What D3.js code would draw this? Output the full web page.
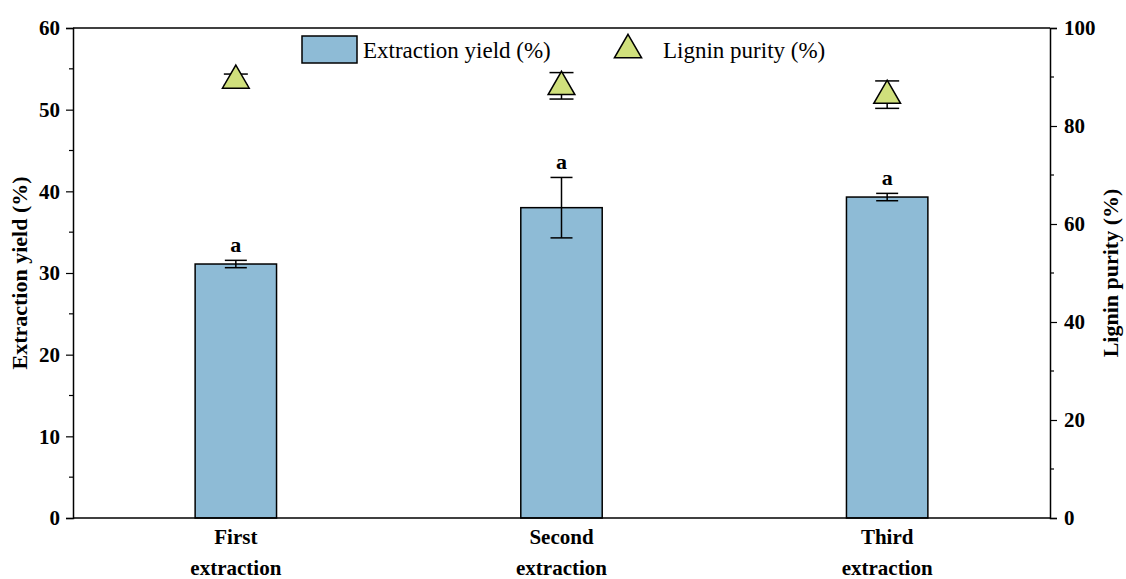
<!DOCTYPE html>
<html><head><meta charset="utf-8">
<script src="https://cdn.jsdelivr.net/npm/d3@7"></script>
<style>body{margin:0;background:#fff}</style>
</head><body>
<svg id="chart" width="1126" height="579"></svg>
<script>
const categories = [["First","extraction"],["Second","extraction"],["Third","extraction"]];
const yieldValues = [31.1, 38.0, 39.3];
const yieldErrors = [0.45, 3.7, 0.45];
const purityValues = [89.5, 88.2, 86.4];
const purityErrors = [1.1, 2.7, 2.8];
const sigLabels = ["a","a","a"];
const leftTicks = [0,10,20,30,40,50,60];
const rightTicks = [0,20,40,60,80,100];

const W=1126,H=579;
const m={l:73,r:1050,t:28,b:518};
const font='"Liberation Serif", "DejaVu Serif", serif';
const svg=d3.select('#chart');
const x=d3.scalePoint().domain(d3.range(categories.length)).range([m.l,m.r]).padding(0.5);
const step=x.step();
const bw=step*0.25;
const yL=d3.scaleLinear().domain([0,60]).range([m.b,m.t]);
const yR=d3.scaleLinear().domain([0,100]).range([m.b,m.t]);

// bars
svg.selectAll('rect.bar').data(yieldValues).enter().append('rect')
 .attr('x',(d,i)=>x(i)-bw/2).attr('y',d=>yL(d)).attr('width',bw).attr('height',d=>yL(0)-yL(d))
 .attr('fill','#8ebbd6').attr('stroke','#000').attr('stroke-width',1.5);

// bar error bars
yieldValues.forEach((v,i)=>{
  const cx=x(i), t=yL(v+yieldErrors[i]), b=yL(v-yieldErrors[i]);
  svg.append('line').attr('x1',cx).attr('x2',cx).attr('y1',t).attr('y2',b).attr('stroke','#000').attr('stroke-width',1.5);
  [t,b].forEach(yy=>svg.append('line').attr('x1',cx-11).attr('x2',cx+11).attr('y1',yy).attr('y2',yy).attr('stroke','#000').attr('stroke-width',1.5));
  svg.append('text').attr('x',cx).attr('y',t-8).attr('text-anchor','middle')
    .attr('font-family',font).attr('font-weight','bold').attr('font-size',22).text(sigLabels[i]);
});

// triangles
const tri=d3.symbol().type(d3.symbolTriangle).size(310);
purityValues.forEach((v,i)=>{
  const cx=x(i), t=yR(v+purityErrors[i]), b=yR(v-purityErrors[i]);
  svg.append('line').attr('x1',cx).attr('x2',cx).attr('y1',t).attr('y2',b).attr('stroke','#000').attr('stroke-width',1.5);
  [t,b].forEach(yy=>svg.append('line').attr('x1',cx-12).attr('x2',cx+12).attr('y1',yy).attr('y2',yy).attr('stroke','#000').attr('stroke-width',1.5));
  svg.append('path').attr('d',tri).attr('transform',`translate(${cx},${yR(v)+1})`)
    .attr('fill','#d0e07c').attr('stroke','#000').attr('stroke-width',1.5);
});

// frame
svg.append('line').attr('x1',m.l).attr('x2',m.r).attr('y1',m.t).attr('y2',m.t).attr('stroke','#000').attr('stroke-width',1.5);
svg.append('line').attr('x1',m.l).attr('x2',m.r).attr('y1',m.b).attr('y2',m.b).attr('stroke','#000').attr('stroke-width',1.5);

// left axis
const gL=svg.append('g').attr('transform',`translate(${m.l},0)`)
 .call(d3.axisLeft(yL).tickValues(leftTicks).tickSize(7).tickPadding(6).tickFormat(d3.format('d')));
gL.selectAll('line.minor').data(d3.range(5,60,10)).enter().append('line').attr('class','minor')
 .attr('x1',0).attr('x2',-4).attr('y1',d=>yL(d)).attr('y2',d=>yL(d)).attr('stroke','#000').attr('stroke-width',1.2);
// right axis
const gR=svg.append('g').attr('transform',`translate(${m.r},0)`)
 .call(d3.axisRight(yR).tickValues(rightTicks).tickSize(7).tickPadding(7).tickFormat(d3.format('d')));
gR.selectAll('line.minor').data(d3.range(10,100,20)).enter().append('line').attr('class','minor')
 .attr('x1',0).attr('x2',4).attr('y1',d=>yR(d)).attr('y2',d=>yR(d)).attr('stroke','#000').attr('stroke-width',1.2);
[gL,gR].forEach(g=>{
  g.select('.domain').attr('stroke','#000').attr('stroke-width',1.5);
  g.selectAll('.tick line').attr('stroke','#000').attr('stroke-width',1.2);
  g.selectAll('.tick text').attr('font-family',font).attr('font-weight','bold').attr('font-size',21).attr('fill','#000');
});

// axis titles
svg.append('text').attr('transform',`translate(27,${(m.t+m.b)/2}) rotate(-90)`).attr('text-anchor','middle')
 .attr('font-family',font).attr('font-weight','bold').attr('font-size',22).text('Extraction yield (%)');
svg.append('text').attr('transform',`translate(1118,${(m.t+m.b)/2}) rotate(-90)`).attr('text-anchor','middle')
 .attr('font-family',font).attr('font-weight','bold').attr('font-size',22).text('Lignin purity (%)');

// category labels
categories.forEach((c,i)=>{
  c.forEach((line,j)=>{
    svg.append('text').attr('x',x(i)).attr('y',544+j*31).attr('text-anchor','middle')
     .attr('font-family',font).attr('font-weight','bold').attr('font-size',21).text(line);
  });
});

// legend
const lg=svg.append('g');
lg.append('rect').attr('x',302).attr('y',36).attr('width',55).attr('height',27).attr('fill','#8ebbd6').attr('stroke','#000').attr('stroke-width',1.5);
lg.append('text').attr('x',363).attr('y',58).attr('font-family',font).attr('font-size',23).text('Extraction yield (%)');
lg.append('path').attr('d',d3.symbol().type(d3.symbolTriangle).size(320)).attr('transform','translate(628,50)')
 .attr('fill','#d0e07c').attr('stroke','#000').attr('stroke-width',1.5);
lg.append('text').attr('x',663).attr('y',58).attr('font-family',font).attr('font-size',23).text('Lignin purity (%)');
</script>
</body></html>
